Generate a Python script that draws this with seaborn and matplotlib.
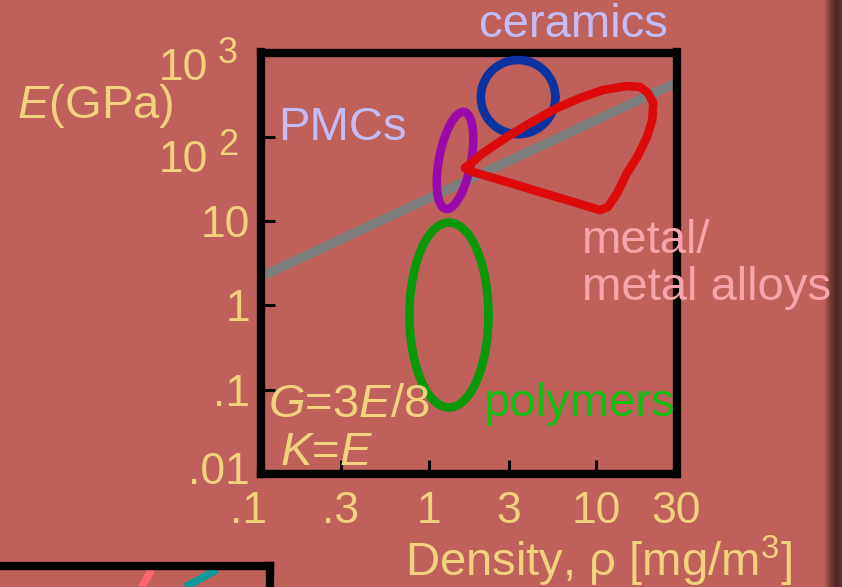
import numpy as np
import matplotlib
matplotlib.use("Agg")
import matplotlib.pyplot as plt
import matplotlib.transforms as mtransforms
from matplotlib.colors import LinearSegmentedColormap
import pandas as pd
import seaborn as sns

# ---- palette -------------------------------------------------------------
BG = "#C0605A"
YELLOW = "#F2D27C"
LAVENDER = "#C4BCF6"
GREEN_TXT = "#10C010"
PINK_TXT = "#F8A4AC"
GUIDE = "#7E7E7E"

# ---- axes ticks ------------------------------------------------------------
x_ticks = [0.1, 0.3, 1, 3, 10, 30]
x_tick_labels = [".1", ".3", "1", "3", "10", "30"]
y_ticks = [0.01, 0.1, 1, 10, 100, 1000]
y_tick_labels = [".01", ".1", "1", "10", "", ""]
# powers of ten written as base + raised exponent
power_exponents = ["2", "3"]

# ---- guide line E proportional to density ----------------------------------
guide_rho = [0.1, 30]
guide_E = [2.2, 440]

# ---- material families drawn as ellipses -----------------------------------
# centre (density, modulus); axis vectors given in decades of each log axis
family_names = ["ceramics", "PMCs", "polymers"]
family_colors = ["#0A32A0", "#9A0AAA", "#08980A"]
centre_rho = [3.41, 1.435, 1.32]
centre_E = [296, 52.4, 0.769]
axis_u = [(0.222, 0.0), (0.094, -0.036), (0.2355, 0.0)]
axis_v = [(0.0, 0.440), (0.055, 0.575), (0.0, 1.097)]

# ---- metals / metal alloys envelope ----------------------------------------
metal_rho = [1.647, 2.108, 2.93, 4.018, 5.82, 7.98, 10.95, 15.2, 18.2, 20.3,
             21.8, 21.5, 20.0, 17.5, 15.2, 13.3, 11.7, 10.5, 7.25, 4.61, 2.93,
             1.837, 1.647]
metal_E = [42.7, 64.3, 99.5, 145.8, 219.6, 288.5, 359, 400.5, 389.8, 330.8,
           251.8, 158.2, 99.5, 57.6, 37.2, 21.5, 14.7, 13.5, 16.9, 22.1, 29.1,
           38.2, 42.7]
METAL_COLOR = "#DD0A0A"

# ---- neighbouring panel peeking in at the lower left -----------------------
side_pink_x = [0.620, 0.590]
side_teal_x = [0.830, 0.728]
side_y = [0.975, 0.85]

W, H = 842, 587
sns.set_theme(style="ticks")
plt.rcParams["font.family"] = ["Liberation Sans", "DejaVu Sans"]
plt.rcParams["mathtext.fontset"] = "custom"
plt.rcParams["mathtext.rm"] = "Liberation Sans"
plt.rcParams["mathtext.it"] = "Liberation Sans:italic"
plt.rcParams["mathtext.bf"] = "Liberation Sans:bold"

fig = plt.figure(figsize=(W / 100, H / 100), dpi=100, facecolor=BG)


def fx(px):
    return px / W


def fy(py):
    return 1 - py / H


LW = 6.2
ax = fig.add_axes([fx(261), fy(474), fx(676.5) - fx(261), fy(52.5) - fy(474)])
ax.set_facecolor(BG)
ax.set_xscale("log")
ax.set_yscale("log")
ax.set_xlim(0.1, 30)
ax.set_ylim(0.01, 1000)

# guide line
guide = pd.DataFrame({"rho": guide_rho, "E": guide_E})
sns.lineplot(data=guide, x="rho", y="E", ax=ax, color=GUIDE, lw=6.8,
             solid_capstyle="butt", zorder=2)

# ellipses traced in log space
t = np.linspace(0, 2 * np.pi, 241)
for name, col, cr, ce, u, v in zip(family_names, family_colors, centre_rho,
                                   centre_E, axis_u, axis_v):
    lx = np.log10(cr) + u[0] * np.cos(t) + v[0] * np.sin(t)
    ly = np.log10(ce) + u[1] * np.cos(t) + v[1] * np.sin(t)
    ax.plot(10 ** lx, 10 ** ly, color=col, lw=LW, zorder=3)

ax.plot(metal_rho, metal_E, color=METAL_COLOR, lw=LW, zorder=4,
        solid_joinstyle="round", solid_capstyle="round")

ax.set_xticks(x_ticks)
ax.set_xticklabels(x_tick_labels)
ax.set_yticks(y_ticks)
ax.set_yticklabels(y_tick_labels)
ax.minorticks_off()
ax.tick_params(direction="in", length=10, width=2.2, color="black",
               labelcolor=YELLOW, labelsize=32)
ax.tick_params(axis="x", pad=12)
ax.tick_params(axis="y", pad=8)
# corner labels are nudged apart: ".1" to the left, ".01" slightly up
first_x = ax.get_xticklabels()[0]
first_x.set_transform(first_x.get_transform() +
                      mtransforms.ScaledTranslation(-12 / 100, 0, fig.dpi_scale_trans))
first_y = ax.get_yticklabels()[0]
first_y.set_transform(first_y.get_transform() +
                      mtransforms.ScaledTranslation(0, 6 / 100, fig.dpi_scale_trans))
for s in ax.spines.values():
    s.set_visible(True)
    s.set_color("black")
    s.set_linewidth(6)
ax.set_xlabel("")
ax.set_ylabel("")

# 10^2 and 10^3 labels with a widely spaced exponent
for exp_txt, base_y, exp_y in zip(power_exponents, [172, 80], [155, 63]):
    fig.text(fx(208), fy(base_y), "10", color=YELLOW, fontsize=32,
             ha="right", va="baseline")
    fig.text(fx(218), fy(exp_y), exp_txt, color=YELLOW, fontsize=26,
             ha="left", va="baseline")

# annotations
FS = 34
fig.text(fx(573), fy(37), "ceramics", color=LAVENDER, fontsize=FS, ha="center", va="baseline")
fig.text(fx(278), fy(140), "PMCs", color=LAVENDER, fontsize=FS, ha="left", va="baseline")
fig.text(fx(483), fy(416), "polymers", color=GREEN_TXT, fontsize=FS, ha="left", va="baseline")
fig.text(fx(582), fy(253), "metal/", color=PINK_TXT, fontsize=FS, ha="left", va="baseline", zorder=10)
fig.text(fx(582), fy(300), "metal alloys", color=PINK_TXT, fontsize=FS, ha="left", va="baseline", zorder=10)
fig.text(fx(268), fy(417), r"$\mathit{G}$=3$\mathit{E}$/8", color=YELLOW, fontsize=FS, ha="left", va="baseline")
fig.text(fx(280), fy(465), r"$\mathit{K}$=$\mathit{E}$", color=YELLOW, fontsize=FS, ha="left", va="baseline")
fig.text(fx(17), fy(118), r"$\mathit{E}$(GPa)", color=YELLOW, fontsize=FS, ha="left", va="baseline")
fig.text(fx(405), fy(576), r"Density, ρ [mg/m$^{3}$]", color=YELLOW, fontsize=FS, ha="left", va="baseline")

# neighbouring panel at the lower left
ax2 = fig.add_axes([fx(-42), fy(707), fx(270) - fx(-42), fy(566) - fy(707)])
ax2.set_facecolor(BG)
ax2.set_xlim(0, 1)
ax2.set_ylim(0, 1)
ax2.set_xticks([])
ax2.set_yticks([])
for s in ax2.spines.values():
    s.set_color("black")
    s.set_linewidth(6)
ax2.plot(side_pink_x, side_y, color="#FF6470", lw=5.5, solid_capstyle="butt")
ax2.plot(side_teal_x, side_y, color="#0A9A9A", lw=5.5, solid_capstyle="butt")

# shadow along the right edge
shadow = fig.add_axes([fx(824), 0, fx(842) - fx(824), 1])
grad = np.linspace(0, 1, 64)[None, :]
cmap = LinearSegmentedColormap.from_list("edge", [BG, "#7A3C36", "#4E2622", "#5A3430"])
shadow.imshow(grad, aspect="auto", cmap=cmap, extent=[0, 1, 0, 1])
shadow.set_axis_off()

fig.savefig("out.png", dpi=100, facecolor=BG)
